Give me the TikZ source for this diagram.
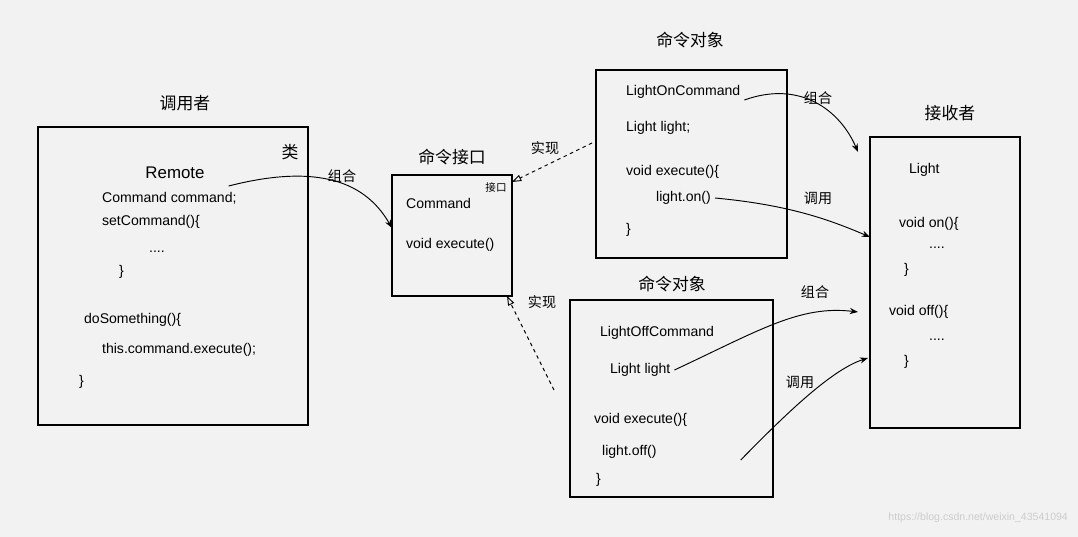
\documentclass[tikz,border=0pt]{standalone}
\usepackage{fontspec}
\setmainfont{Liberation Sans}
\newfontfamily\cjk{Noto Sans CJK SC}
\usetikzlibrary{arrows.meta}
\begin{document}
\begin{tikzpicture}[x=0.03cm,y=-0.03cm,
 box/.style={draw,line width=1pt},
 ttl/.style={font=\cjk\Large},
 txt/.style={anchor=west,font=\large},
 lbl/.style={font=\cjk\large},
 conn/.style={line width=0.8pt,-{Stealth[length=7pt]}},
 impl/.style={line width=0.8pt,dashed,-{Triangle[open,length=8pt]}}]
\fill[gray!10] (0,0) rectangle (1078,537);
\useasboundingbox (0,0) rectangle (1078,537);
% boxes
\draw[box] (38,127) rectangle (308,425);
\draw[box] (392,175) rectangle (512,296);
\draw[box] (596,70) rectangle (787,258);
\draw[box] (570,300) rectangle (773,497);
\draw[box] (870,137) rectangle (1020,428);
% titles
\node[ttl] (t1) at (185,103) {调用者};
\node[ttl] (t2) at (452,157) {命令接口};
\node[ttl] (t3) at (690,40) {命令对象};
\node[ttl] (t4) at (672,284) {命令对象};
\node[ttl] (t5) at (950,113) {接收者};
% Remote
\node[font=\Large] (r0) at (175,173) {Remote};
\node[ttl] (r1) at (290,152) {类};
\node[txt] (r2) at (98,198) {Command command;};
\node[txt] (r3) at (98,222) {setCommand()\{};
\node[txt] (r4) at (145,252) {....};
\node[txt] (r5) at (115,272) {\}};
\node[txt] (r6) at (80,320) {doSomething()\{};
\node[txt] (r7) at (98,350) {this.command.execute();};
\node[txt] (r8) at (75,382) {\}};
% interface
\node[txt] (c1) at (402,203) {Command};
\node[font=\cjk\small] (c0) at (496,188) {接口};
\node[txt] (c2) at (402,245) {void execute()};
% LightOn
\node[txt] (o1) at (622,92) {LightOnCommand};
\node[txt] (o2) at (622,128) {Light light;};
\node[txt] (o3) at (622,172) {void execute()\{};
\node[txt] (o4) at (652,198) {light.on()};
\node[txt] (o5) at (622,230) {\}};
% LightOff
\node[txt] (f1) at (596,333) {LightOffCommand};
\node[txt] (f2) at (606,370) {Light light};
\node[txt] (f3) at (590,420) {void execute()\{};
\node[txt] (f4) at (598,452) {light.off()};
\node[txt] (f5) at (592,480) {\}};
% Light
\node[txt] (l1) at (905,170) {Light};
\node[txt] (l2) at (895,224) {void on()\{};
\node[txt] (l3) at (925,248) {....};
\node[txt] (l4) at (900,270) {\}};
\node[txt] (l5) at (885,312) {void off()\{};
\node[txt] (l6) at (925,340) {....};
\node[txt] (l7) at (900,362) {\}};
% anchor coordinates
\coordinate (ca) at (392,228);
\coordinate (cb) at (512,182);
\coordinate (cc) at (507,296);
\coordinate (la) at (858,152);
\coordinate (lb) at (870,237);
\coordinate (lc) at (858,312);
\coordinate (ld) at (868,358);
% connectors
\draw[conn] (r2.east) ++(-12,-12) .. controls (330,160) and (370,190) .. (ca);
\node[lbl] (g1) at (342,176) {组合};
\draw[impl] (o2.west) ++(-30,15) -- (cb);
\node[lbl] (s1) at (545,148) {实现};
\draw[impl] (f2.west) ++(-52,20) -- (cc);
\node[lbl] (s2) at (542,302) {实现};
\draw[conn] (o1.east) ++(0,8) .. controls (800,80) and (840,110) .. (la);
\node[lbl] (g2) at (818,98) {组合};
\draw[conn] (o4.east) .. controls (790,205) and (830,220) .. (lb);
\node[lbl] (d1) at (818,198) {调用};
\draw[conn] (f2.east) .. controls (760,330) and (800,305) .. (lc);
\node[lbl] (g3) at (815,292) {组合};
\draw[conn] (f4.east) ++(80,8) .. controls (780,420) and (830,370) .. (ld);
\node[lbl] (d2) at (800,382) {调用};
\node[anchor=east,font=\small,text=gray!40] (wm) at (1072,518) {https://blog.csdn.net/weixin\_43541094};
\end{tikzpicture}
\end{document}
